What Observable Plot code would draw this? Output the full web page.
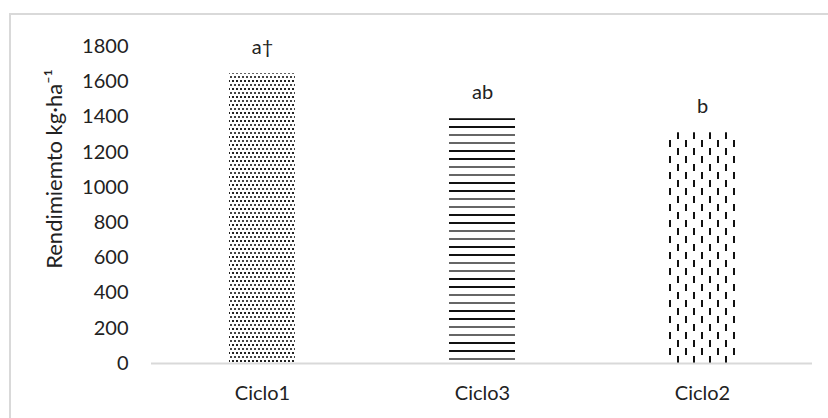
<!DOCTYPE html>
<html>
<head>
<meta charset="utf-8">
<script src="https://cdn.jsdelivr.net/npm/d3@7"></script>
<script src="https://cdn.jsdelivr.net/npm/@observablehq/plot@0.6"></script>
<style>
  html, body { margin: 0; padding: 0; background: #fff; }
  #wrap { position: relative; width: 828px; height: 418px; overflow: hidden; }
  #border { position: absolute; left: 9px; top: 13px; width: 900px; height: 500px; border: 2px solid #d9d9d9; box-sizing: border-box; }
  #chart { position: absolute; left: 0; top: 0; }
</style>
</head>
<body>
<svg width="0" height="0" style="position:absolute">
  <defs>
    <pattern id="patDots" patternUnits="userSpaceOnUse" width="4" height="8">
      <rect x="0" y="0" width="2" height="2" fill="#222"/>
      <rect x="2" y="4" width="2" height="2" fill="#444"/>
    </pattern>
    <pattern id="patHLines" patternUnits="userSpaceOnUse" width="8" height="32" y="6">
      <rect x="0" y="0" width="8" height="2" fill="#666"/>
      <rect x="0" y="8" width="8" height="2" fill="#666"/>
      <rect x="0" y="16" width="8" height="2" fill="#111"/>
      <rect x="0" y="24" width="8" height="2" fill="#111"/>
    </pattern>
    <pattern id="patVDash" patternUnits="userSpaceOnUse" width="16" height="16" x="1" y="4">
      <rect x="4" y="0" width="2" height="7" fill="#111"/>
      <rect x="12" y="8" width="2" height="7" fill="#111"/>
    </pattern>
  </defs>
</svg>
<div id="wrap">
  <div id="border"></div>
  <div id="chart"></div>
</div>
<script>
const categories = ["Ciclo1", "Ciclo3", "Ciclo2"];
const values = [1645, 1390, 1310];
const letters = ["a\u2020", "ab", "b"];
const patterns = ["url(#patDots)", "url(#patHLines)", "url(#patVDash)"];
const yTicks = [0, 200, 400, 600, 800, 1000, 1200, 1400, 1600, 1800];
const yLabel = "Rendimiemto kg\u00B7ha\u207B\u00B9";

const data = categories.map((c, i) => ({cat: c, val: values[i], letter: letters[i], pat: patterns[i]}));

const chart = Plot.plot({
  width: 828,
  height: 418,
  marginLeft: 151,
  marginRight: 16,
  marginTop: 46,
  marginBottom: 55,
  style: {fontFamily: "Lato, sans-serif", fontSize: "20px", color: "#222", background: "transparent"},
  x: {domain: categories, paddingInner: 0.7, paddingOuter: 0.35, label: null, tickSize: 0, tickPadding: 22},
  y: {domain: [0, 1800], ticks: yTicks, label: null, tickSize: 0, tickPadding: 23, tickFormat: d => String(d)},
  color: {type: "identity"},
  marks: [
    Plot.barY(data, {x: "cat", y: "val", fill: "pat"}),
    Plot.ruleY([0], {stroke: "#d9d9d9", strokeWidth: 2}),
    Plot.text(data, {x: "cat", y: "val", text: "letter", lineAnchor: "bottom", dy: -20, fontSize: 20, fill: "#222"}),
    Plot.text([yLabel], {frameAnchor: "left", textAnchor: "middle", lineAnchor: "middle", dx: -97, dy: -36, rotate: -90, fontSize: 22, fill: "#222"})
  ]
});
document.getElementById("chart").appendChild(chart);
</script>
</body>
</html>
